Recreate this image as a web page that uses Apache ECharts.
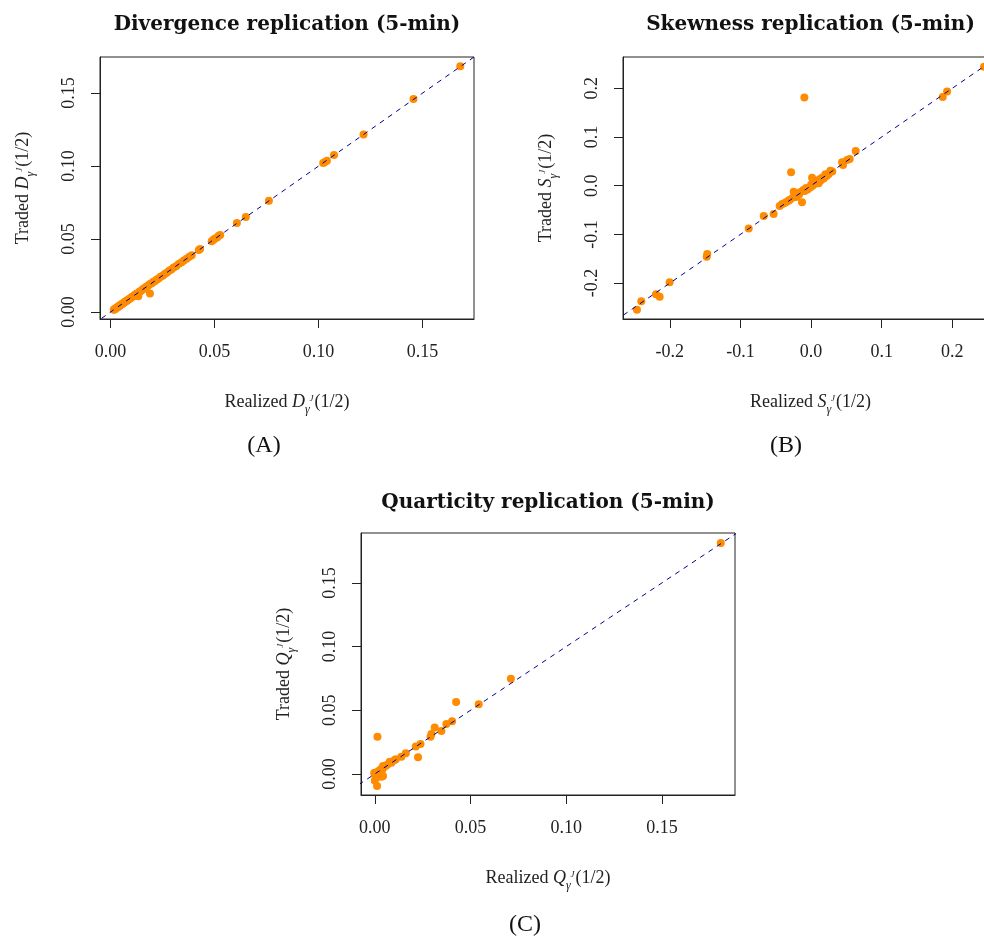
<!DOCTYPE html>
<html>
<head>
<meta charset="utf-8">
<script src="https://cdn.jsdelivr.net/npm/echarts@6/dist/echarts.min.js"></script>
<style>
html,body{margin:0;padding:0;background:#fff;}
#chart{width:984px;height:936px;}
</style>
</head>
<body>
<div id="chart"></div>
<script>
// ---------- Data ----------
// Panel A: Divergence replication
const realizedA = [0.0015,0.0018,0.0021,0.0024,0.0027,0.0030,0.0033,0.0036,0.0040,0.0044,0.0048,0.0052,0.0056,0.0060,0.0064,0.0068,0.0072,0.0077,0.0082,0.0087,0.0092,0.0097,0.0102,0.0108,0.0114,0.0120,0.0126,0.0133,0.0138,0.0140,0.0147,0.0154,0.0161,0.0168,0.0175,0.0182,0.0189,0.0190,0.0198,0.0206,0.0214,0.0222,0.0231,0.0240,0.0250,0.0260,0.0270,0.0281,0.0292,0.0303,0.0315,0.0327,0.0340,0.0352,0.0365,0.0378,0.0390,0.0424,0.0430,0.0486,0.0493,0.0500,0.0512,0.0520,0.0527,0.0607,0.0650,0.0761,0.1022,0.1030,0.1040,0.1074,0.1216,0.1456,0.1681];
const tradedA   = [0.0016,0.0017,0.0022,0.0023,0.0028,0.0029,0.0034,0.0035,0.0041,0.0043,0.0049,0.0051,0.0057,0.0059,0.0065,0.0067,0.0073,0.0076,0.0083,0.0086,0.0093,0.0096,0.0103,0.0107,0.0115,0.0119,0.0127,0.0108,0.0137,0.0141,0.0146,0.0155,0.0160,0.0169,0.0174,0.0183,0.0126,0.0191,0.0197,0.0207,0.0213,0.0223,0.0230,0.0241,0.0249,0.0261,0.0269,0.0282,0.0291,0.0304,0.0314,0.0328,0.0339,0.0353,0.0364,0.0379,0.0389,0.0425,0.0432,0.0484,0.0494,0.0502,0.0510,0.0522,0.0528,0.0610,0.0650,0.0762,0.1021,0.1028,0.1036,0.1076,0.1216,0.1459,0.1683];

// Panel B: Skewness replication
const realizedB = [-0.2465,-0.2404,-0.2196,-0.2144,-0.2003,-0.1478,-0.1470,-0.0883,-0.0670,-0.0530,-0.0444,-0.0410,-0.0380,-0.0350,-0.0320,-0.0300,-0.0283,-0.0246,-0.0260,-0.0230,-0.0210,-0.0190,-0.0170,-0.0150,-0.0128,-0.0110,-0.0095,-0.0090,-0.0070,-0.0050,-0.0034,-0.0010,0.0000,0.0014,0.0020,0.0040,0.0060,0.0080,0.0108,0.0120,0.0140,0.0160,0.0180,0.0203,0.0220,0.0250,0.0273,0.0300,0.0439,0.0453,0.0510,0.0547,0.0632,0.1864,0.1926,0.2450];
const tradedB   = [-0.2545,-0.2372,-0.2228,-0.2280,-0.1980,-0.1460,-0.1405,-0.0877,-0.0624,-0.0580,-0.0418,-0.0377,-0.0360,-0.0335,-0.0310,-0.0290,0.0276,-0.0123,-0.0250,-0.0200,-0.0230,-0.0160,-0.0180,-0.0130,-0.0342,-0.0090,0.1810,-0.0110,-0.0050,-0.0080,-0.0054,-0.0030,0.0020,0.0165,0.0000,0.0050,0.0040,0.0090,0.0050,0.0130,0.0110,0.0170,0.0150,0.0234,0.0200,0.0240,0.0309,0.0290,0.0481,0.0426,0.0529,0.0549,0.0714,0.1819,0.1934,0.2440];

// Panel C: Quarticity replication
const realizedC = [0.1808,0.0711,0.0543,0.0425,0.0404,0.0374,0.0348,0.0313,0.0296,0.0291,0.0239,0.0214,0.0226,0.0162,0.0139,0.0110,0.0104,0.0078,0.0087,0.0065,0.0055,0.0043,0.0040,0.0035,0.0030,0.0025,0.0020,0.0017,0.0010,0.0005,0.0000,-0.0003,0.0014,0.0012,0.0043,0.0000,0.0005,0.0035,0.0008];
const tradedC   = [0.1814,0.0747,0.0548,0.0566,0.0414,0.0393,0.0338,0.0364,0.0314,0.0293,0.0236,0.0215,0.0131,0.0163,0.0136,0.0115,0.0110,0.0097,0.0089,0.0072,0.0060,0.0063,0.0035,0.0042,0.0025,0.0030,0.0015,0.0018,0.0005,0.0012,0.0000,0.0008,0.0293,-0.0094,-0.0016,-0.0052,-0.0021,-0.0021,-0.0030];

// Tick labels
const ticksA = [0, 0.05, 0.10, 0.15];
const ticksB = [-0.2, -0.1, 0.0, 0.1, 0.2];
const ticksC = [0, 0.05, 0.10, 0.15];

// 45-degree reference line y = x
const refLine = [-1, 1];

// Titles / labels
const titles = ['Divergence replication (5-min)', 'Skewness replication (5-min)', 'Quarticity replication (5-min)'];
const panelTags = ['(A)', '(B)', '(C)'];
const letters = ['D', 'S', 'Q'];

// ---------- Chart ----------
const zip = (a, b) => a.map((v, i) => [v, b[i]]);
const SERIF = '"Liberation Serif", "Times New Roman", serif';
const ORANGE = '#FF8C00';
const NAVY = '#00008B';

const rich = {
  i: { fontStyle: 'italic', fontSize: 18, fontFamily: SERIF, color: '#222', verticalAlign: 'middle', lineHeight: 28 },
  s: { fontStyle: 'italic', fontSize: 12, fontFamily: SERIF, color: '#222', verticalAlign: 'bottom', lineHeight: 28 },
  p: { fontStyle: 'italic', fontSize: 9, fontFamily: SERIF, color: '#222', verticalAlign: 'middle', padding: [0, 1, 6, 0] },
  n: { fontSize: 18, fontFamily: SERIF, color: '#222', verticalAlign: 'middle', lineHeight: 28 }
};
function axName(prefix, L) {
  return '{n|' + prefix + ' }{i|' + L + '}{s|γ}{p|J}{n|(1/2)}';
}

const grids = [
  { left: 100, top: 57, width: 374, height: 262 },
  { left: 623, top: 57, width: 375, height: 262 },
  { left: 361, top: 533, width: 374, height: 262 }
];
const xr = [[-0.0051, 0.1747], [-0.2663, 0.2647], [-0.0072, 0.1882]];
const yr = [[-0.0048, 0.1747], [-0.2737, 0.2642], [-0.0165, 0.1892]];
const tks = [ticksA, ticksB, ticksC];
const dec = [2, 1, 2];

function xAxis(k) {
  return {
    type: 'value', gridIndex: k, min: xr[k][0], max: xr[k][1],
    axisLine: { show: true, onZero: false, lineStyle: { color: '#222', width: 1 } },
    axisTick: { show: true, length: 9, customValues: tks[k], lineStyle: { color: '#222' } },
    axisLabel: { customValues: tks[k], margin: 24, fontSize: 18, fontFamily: SERIF, color: '#222',
      formatter: v => v.toFixed(dec[k]) },
    splitLine: { show: false },
    name: axName('Realized', letters[k]), nameLocation: 'middle', nameGap: 69,
    nameTextStyle: { rich: rich }
  };
}
function yAxis(k) {
  return {
    type: 'value', gridIndex: k, min: yr[k][0], max: yr[k][1],
    axisLine: { show: true, onZero: false, lineStyle: { color: '#222', width: 1 } },
    axisTick: { show: true, length: 9, customValues: tks[k], lineStyle: { color: '#222' } },
    axisLabel: { customValues: tks[k], rotate: 90, margin: 22, fontSize: 18, fontFamily: SERIF, color: '#222',
      formatter: v => v.toFixed(dec[k]) },
    splitLine: { show: false },
    name: axName('Traded', letters[k]), nameLocation: 'middle', nameGap: 63, nameRotate: 90,
    nameTextStyle: { rich: rich }
  };
}

const dataSets = [zip(realizedA, tradedA), zip(realizedB, tradedB), zip(realizedC, tradedC)];
const series = [];
for (let k = 0; k < 3; k++) {
  series.push({
    type: 'scatter', xAxisIndex: k, yAxisIndex: k, data: dataSets[k],
    symbol: 'circle', symbolSize: 8, itemStyle: { color: ORANGE, opacity: 1 }, z: 2, silent: true
  });
  series.push({
    type: 'line', xAxisIndex: k, yAxisIndex: k, data: refLine.map(v => [v, v]),
    showSymbol: false, symbol: 'none', clip: true, silent: true, z: 3,
    lineStyle: { color: NAVY, width: 1, type: [5, 5] }
  });
}

const centers = grids.map(g => g.left + g.width / 2);
const titleComps = [
  { text: titles[0], left: centers[0], top: 15 },
  { text: titles[1], left: centers[1], top: 15 },
  { text: titles[2], left: centers[2], top: 493 }
].map(t => Object.assign(t, { textAlign: 'center', padding: 0,
  textStyle: { fontFamily: '"DejaVu Serif", serif', fontWeight: 'bold', fontSize: 20, color: '#111' } }));
const tagComps = [
  { text: panelTags[0], left: 264, top: 434 },
  { text: panelTags[1], left: 786, top: 434 },
  { text: panelTags[2], left: 525, top: 913 }
].map(t => Object.assign(t, { textAlign: 'center', padding: 0,
  textStyle: { fontFamily: SERIF, fontWeight: 'normal', fontSize: 24, color: '#111' } }));

const chart = echarts.init(document.getElementById('chart'), null, { renderer: 'canvas' });
chart.setOption({
  animation: false,
  backgroundColor: '#fff',
  title: titleComps.concat(tagComps),
  grid: grids.map(g => Object.assign({ show: true, borderColor: '#222', borderWidth: 1, backgroundColor: 'transparent', containLabel: false, outerBoundsMode: 'none' }, g)),
  xAxis: [0, 1, 2].map(xAxis),
  yAxis: [0, 1, 2].map(yAxis),
  series: series
});
</script>
</body>
</html>
